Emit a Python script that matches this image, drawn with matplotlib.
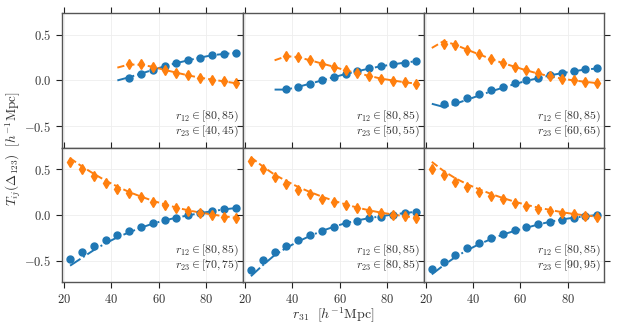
import matplotlib
matplotlib.use("Agg")
import matplotlib.pyplot as plt

# ---- Style ----
plt.rcParams["font.family"] = "serif"
plt.rcParams["font.serif"] = ["cmr10", "DejaVu Serif"]
plt.rcParams["mathtext.fontset"] = "cm"
plt.rcParams["axes.formatter.use_mathtext"] = True
plt.rcParams["font.size"] = 9

TXT = "#333333"
BLUE = "#1f77b4"
ORANGE = "#ff7f0e"

# ---- Data ----
r31 = [22.5, 27.5, 32.5, 37.5, 42.5, 47.5, 52.5, 57.5,
       62.5, 67.5, 72.5, 77.5, 82.5, 87.5, 92.5]

r23_bins = ["[40, 45)", "[50, 55)", "[60, 65)", "[70, 75)", "[80, 85)", "[90, 95)"]

# measured (points); x = last len() values of r31
blue_pts_1 = [0.026, 0.073, 0.109, 0.153, 0.193, 0.219, 0.248, 0.274, 0.292, 0.303]
orange_pts_1 = [0.182, 0.179, 0.146, 0.117, 0.080, 0.055, 0.026, 0.007, -0.011, -0.033]
blue_pts_2 = [-0.095, -0.073, -0.036, 0.0, 0.033, 0.066, 0.102, 0.131, 0.157, 0.179, 0.193, 0.208]
orange_pts_2 = [0.263, 0.252, 0.219, 0.182, 0.150, 0.109, 0.080, 0.051, 0.018, -0.004, -0.022, -0.036]
blue_pts_3 = [-0.259, -0.237, -0.193, -0.153, -0.109, -0.069, -0.033, 0.0, 0.029, 0.055,
              0.084, 0.102, 0.120, 0.131]
orange_pts_3 = [0.401, 0.383, 0.336, 0.285, 0.234, 0.190, 0.150, 0.109, 0.077, 0.044,
                0.018, 0.0, -0.018, -0.033]
blue_pts_4 = [-0.482, -0.408, -0.342, -0.276, -0.224, -0.173, -0.129, -0.088, -0.059, -0.029,
              0.0, 0.026, 0.048, 0.063, 0.077]
orange_pts_4 = [0.577, 0.504, 0.426, 0.353, 0.287, 0.235, 0.191, 0.143, 0.110, 0.074,
                0.048, 0.022, 0.004, -0.018, -0.033]
blue_pts_5 = [-0.600, -0.493, -0.408, -0.338, -0.272, -0.221, -0.173, -0.132, -0.092, -0.062,
              -0.037, -0.018, 0.004, 0.022, 0.037]
orange_pts_5 = [0.590, 0.504, 0.412, 0.335, 0.276, 0.224, 0.173, 0.136, 0.107, 0.074,
                0.048, 0.026, 0.004, -0.011, -0.033]
blue_pts_6 = [-0.588, -0.511, -0.437, -0.364, -0.305, -0.254, -0.206, -0.165, -0.132, -0.099,
              -0.074, -0.051, -0.033, -0.015, 0.0]
orange_pts_6 = [0.504, 0.434, 0.364, 0.309, 0.254, 0.210, 0.169, 0.129, 0.099, 0.070,
                0.048, 0.026, 0.007, -0.011, -0.026]

# model (lines)
blue_model_1 = [0.0, 0.035, 0.075, 0.115, 0.155, 0.19, 0.22, 0.25, 0.275, 0.29, 0.30]
orange_model_1 = [0.14, 0.175, 0.17, 0.15, 0.115, 0.085, 0.055, 0.03, 0.01, -0.01, -0.03]
blue_model_2 = [-0.10, -0.10, -0.07, -0.035, 0.0, 0.035, 0.07, 0.10, 0.13, 0.155, 0.175, 0.195, 0.21]
orange_model_2 = [0.22, 0.265, 0.255, 0.22, 0.185, 0.15, 0.11, 0.08, 0.05, 0.02, 0.0, -0.02, -0.035]
blue_model_3 = [-0.255, -0.29, -0.255, -0.21, -0.165, -0.12, -0.08, -0.04, -0.005, 0.025,
                0.055, 0.08, 0.10, 0.12, 0.13]
orange_model_3 = [0.355, 0.43, 0.39, 0.335, 0.285, 0.235, 0.19, 0.15, 0.11, 0.075,
                  0.045, 0.02, 0.0, -0.015, -0.03]
blue_model_4 = [-0.555, -0.47, -0.385, -0.31, -0.245, -0.19, -0.14, -0.095, -0.06, -0.03,
                -0.005, 0.02, 0.04, 0.06, 0.075]
orange_model_4 = [0.62, 0.53, 0.45, 0.375, 0.31, 0.25, 0.2, 0.155, 0.115, 0.08,
                  0.05, 0.025, 0.005, -0.015, -0.03]
blue_model_5 = [-0.67, -0.55, -0.44, -0.36, -0.29, -0.23, -0.175, -0.13, -0.09, -0.06,
                -0.035, -0.015, 0.005, 0.02, 0.035]
orange_model_5 = [0.63, 0.53, 0.44, 0.37, 0.305, 0.25, 0.2, 0.155, 0.115, 0.08,
                  0.05, 0.025, 0.005, -0.015, -0.03]
blue_model_6 = [-0.65, -0.55, -0.46, -0.385, -0.32, -0.265, -0.215, -0.175, -0.14, -0.105,
                -0.075, -0.05, -0.03, -0.015, 0.0]
orange_model_6 = [0.58, 0.48, 0.40, 0.335, 0.28, 0.23, 0.185, 0.145, 0.11, 0.08,
                  0.055, 0.03, 0.01, -0.005, -0.02]

err_blue = 0.01
err_orange = 0.03

blue_pts = [blue_pts_1, blue_pts_2, blue_pts_3, blue_pts_4, blue_pts_5, blue_pts_6]
orange_pts = [orange_pts_1, orange_pts_2, orange_pts_3, orange_pts_4, orange_pts_5, orange_pts_6]
blue_model = [blue_model_1, blue_model_2, blue_model_3, blue_model_4, blue_model_5, blue_model_6]
orange_model = [orange_model_1, orange_model_2, orange_model_3, orange_model_4, orange_model_5, orange_model_6]

# ---- Plot ----
fig, axes = plt.subplots(2, 3, figsize=(6.18, 3.30), dpi=100, sharex=True, sharey=True)
fig.subplots_adjust(left=0.100, right=0.978, top=0.960, bottom=0.145, wspace=0, hspace=0)

for k, ax in enumerate(axes.flat):
    xb = r31[-len(blue_model[k]):]
    xo = r31[-len(orange_model[k]):]
    ax.plot(xb, blue_model[k], color=BLUE, ls="-.", lw=1.4, zorder=2)
    ax.plot(xo, orange_model[k], color=ORANGE, ls="--", lw=1.4, zorder=2)
    ax.errorbar(r31[-len(blue_pts[k]):], blue_pts[k], yerr=err_blue, fmt="o", ms=5,
                color=BLUE, elinewidth=1.2, capsize=0, zorder=3)
    ax.errorbar(r31[-len(orange_pts[k]):], orange_pts[k], yerr=err_orange, fmt="d", ms=5.5,
                color=ORANGE, elinewidth=1.2, capsize=0, zorder=3)

    ax.text(0.98, 0.235, r"$r_{12} \in [80, 85)$", transform=ax.transAxes,
            ha="right", va="center", color=TXT, fontsize=8.5)
    ax.text(0.98, 0.125, r"$r_{23} \in " + r23_bins[k] + "$", transform=ax.transAxes,
            ha="right", va="center", color=TXT, fontsize=8.5)

    ax.set_xlim(19, 95.5)
    ax.set_ylim(-0.735, 0.735)
    ax.set_xticks([20, 40, 60, 80])
    ax.set_yticks([-0.5, 0.0, 0.5])
    ax.grid(True, color="#eeeeee", lw=0.6)
    ax.set_axisbelow(True)
    ax.tick_params(direction="out", top=True, right=True, length=4, width=0.8,
                   colors="#222222", labelcolor=TXT, labelsize=9)
    for s in ax.spines.values():
        s.set_color("#555555")
        s.set_linewidth(1.0)

fig.text(0.54, 0.045, r"$r_{31}\ \ [h^{-1}\mathrm{Mpc}]$", ha="center", va="center",
         color=TXT, fontsize=10)
fig.text(0.022, 0.55, r"$T_{ij}(\Delta_{123})\ \ [h^{-1}\mathrm{Mpc}]$", ha="center",
         va="center", rotation=90, color=TXT, fontsize=9.5)

fig.savefig("out.png", dpi=100)
